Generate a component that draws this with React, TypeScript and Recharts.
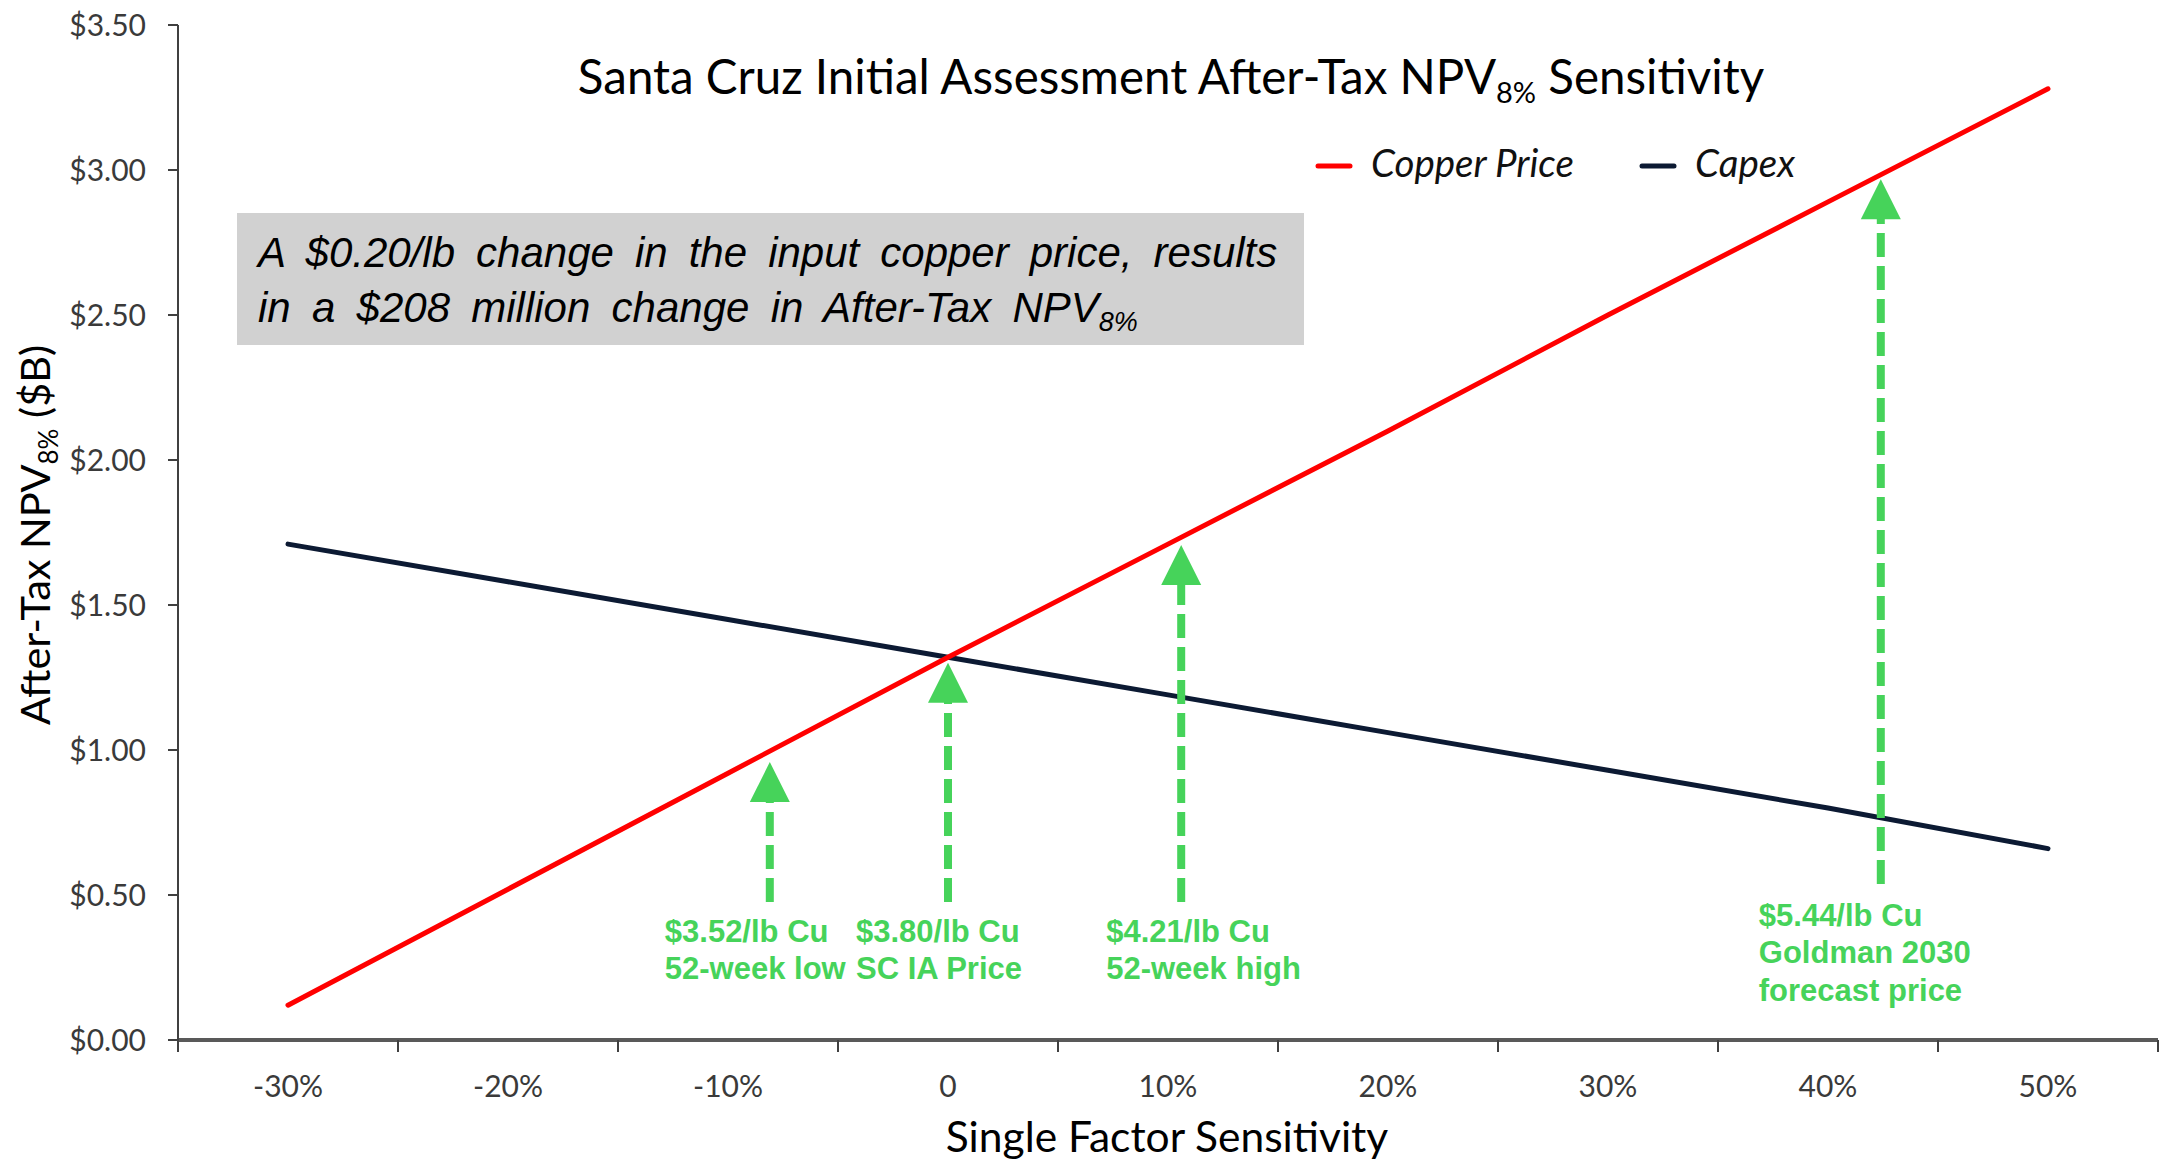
import React from 'react';
import { LineChart, Line, XAxis, YAxis, ReferenceLine, ReferenceDot, Customized } from 'recharts';

// ---------- data ----------
const categories = [-30, -20, -10, 0, 10, 20, 30, 40, 50];
const categoryLabels = ['-30%', '-20%', '-10%', '0', '10%', '20%', '30%', '40%', '50%'];
const copperPrice = [0.12, 0.52, 0.92, 1.32, 1.71, 2.1, 2.5, 2.89, 3.28];
const capex = [1.71, 1.58, 1.45, 1.32, 1.19, 1.06, 0.93, 0.8, 0.66];
const yTicks = [0, 0.5, 1, 1.5, 2, 2.5, 3, 3.5];
const xBoundaries = [-35, -25, -15, -5, 5, 15, 25, 35, 45, 55];

// annotation arrows (x in % sensitivity, y in $B)
const arrowX = [-8.1, 0, 10.6, 42.4];
const arrowBottom = [0.476, 0.476, 0.476, 0.538];
const arrowHeadBase = [0.824, 1.166, 1.572, 2.834];
const arrowLabels = [
  ['$3.52/lb Cu', '52-week low'],
  ['$3.80/lb Cu', 'SC IA Price'],
  ['$4.21/lb Cu', '52-week high'],
  ['$5.44/lb Cu', 'Goldman 2030', 'forecast price'],
];

const series = [
  { key: 'capex', name: 'Capex', color: '#0c1a33' },
  { key: 'copper', name: 'Copper Price', color: '#FF0000' },
];
const legendOrder = ['copper', 'capex'];

// ---------- layout / style ----------
const W = 2165;
const H = 1163;
const MARGIN = { top: 25, right: 7, bottom: 0, left: 78 };
const YAXIS_W = 100;
const XAXIS_H = 123;
const PLOT_W = W - MARGIN.left - MARGIN.right - YAXIS_W;
const HALF_BAND = PLOT_W / categories.length / 2;
const GREEN = '#46D35A';
const SANS = 'Lato, "Noto Sans", sans-serif';
const ARIAL = '"Liberation Sans", Arial, sans-serif';
const labelDx = [-105, -92, -75, -122];
const labelDy = [40, 40, 40, 42];
const legendX = [1318, 1642];

const data = categories.map((c, i) => ({ x: c, copper: copperPrice[i], capex: capex[i] }));

const XTick = (props: any) => {
  const { x, y, payload } = props;
  const i = xBoundaries.indexOf(payload.value);
  if (i < 0 || i >= categoryLabels.length) return <g />;
  return (
    <text x={x + HALF_BAND} y={y + 43} textAnchor="middle" fontFamily={SANS} fontSize={30} fill="#3a3a3a">
      {categoryLabels[i]}
    </text>
  );
};

const ArrowHead = (props: any) => {
  const { cx, cy } = props;
  if (cx == null || cy == null) return <g />;
  return <path d={`M${cx - 20},${cy + 1} L${cx + 20},${cy + 1} L${cx},${cy - 39} Z`} fill={GREEN} />;
};

const makeLabel = (i: number) => (props: any) => {
  const { cx, cy } = props;
  if (cx == null || cy == null) return <g />;
  return (
    <text fontFamily={ARIAL} fontWeight="bold" fontSize={31} fill={GREEN}>
      {arrowLabels[i].map((t, k) => (
        <tspan key={k} x={cx + labelDx[i]} y={cy + labelDy[i] + k * 37.5}>
          {t}
        </tspan>
      ))}
    </text>
  );
};

const Overlay = () => (
  <g>
    {/* title */}
    <text x={1171} y={94} textAnchor="middle" fontFamily={SANS} fontSize={47.5} fill="#000">
      Santa Cruz Initial Assessment After-Tax NPV
      <tspan dy={9} fontSize={29}>8%</tspan>
      <tspan dy={-9}> Sensitivity</tspan>
    </text>
    {/* legend */}
    {legendOrder.map((k, i) => {
      const s = series.find((q) => q.key === k)!;
      return (
        <g key={k}>
          <line x1={legendX[i]} x2={legendX[i] + 32} y1={166} y2={166} stroke={s.color} strokeWidth={5} strokeLinecap="round" />
          <text x={legendX[i] + 53} y={177} fontFamily={SANS} fontStyle="italic" fontSize={38.5} fill="#111">
            {s.name}
          </text>
        </g>
      );
    })}
    {/* text box */}
    <rect x={237} y={213} width={1067} height={132} fill="#d1d1d1" />
    <text x={258} y={267} fontFamily={ARIAL} fontStyle="italic" fontSize={42} fill="#000" wordSpacing={9.4}>
      A $0.20/lb change in the input copper price, results
    </text>
    <text x={258} y={322} fontFamily={ARIAL} fontStyle="italic" fontSize={42} fill="#000" wordSpacing={9.6}>
      in a $208 million change in After-Tax NPV
      <tspan dy={9} fontSize={27}>8%</tspan>
    </text>
    {/* y axis title */}
    <text transform="translate(50,535) rotate(-90)" textAnchor="middle" fontFamily={SANS} fontSize={41.5} fill="#000">
      After-Tax NPV
      <tspan dy={8} fontSize={26}>8%</tspan>
      <tspan dy={-8}> ($B)</tspan>
    </text>
    {/* x axis title */}
    <text x={1167} y={1152} textAnchor="middle" fontFamily={SANS} fontSize={42.5} fill="#000">
      Single Factor Sensitivity
    </text>
  </g>
);

export default function App() {
  return (
    <div style={{ position: 'absolute', left: 0, top: 0, width: W, height: H, background: '#fff' }}>
      <LineChart width={W} height={H} data={data} margin={MARGIN}>
        <XAxis
          dataKey="x"
          type="number"
          domain={[-35, 55]}
          ticks={xBoundaries}
          interval={0}
          height={XAXIS_H}
          axisLine={{ stroke: '#595959', strokeWidth: 4 }}
          tickLine={{ stroke: '#404040', strokeWidth: 2 }}
          tickSize={12}
          tick={<XTick />}
          allowDataOverflow
        />
        <YAxis
          type="number"
          domain={[0, 3.5]}
          ticks={yTicks}
          interval={0}
          width={YAXIS_W}
          axisLine={{ stroke: '#404040', strokeWidth: 2 }}
          tickLine={{ stroke: '#404040', strokeWidth: 2 }}
          tickSize={10}
          tickMargin={22}
          tick={{ fontFamily: SANS, fontSize: 30, fill: '#3a3a3a' }}
          tickFormatter={(v: number) => `$${v.toFixed(2)}`}
          allowDataOverflow
        />
        {series.map((s) => (
          <Line
            key={s.key}
            type="linear"
            dataKey={s.key}
            name={s.name}
            stroke={s.color}
            strokeWidth={5}
            strokeLinecap="round"
            dot={false}
            activeDot={false}
            isAnimationActive={false}
          />
        ))}
        {arrowX.map((x, i) => (
          <ReferenceLine
            key={`l${i}`}
            segment={[
              { x, y: arrowBottom[i] },
              { x, y: arrowHeadBase[i] },
            ]}
            stroke={GREEN}
            strokeWidth={8}
            strokeDasharray="24 9"
          />
        ))}
        {arrowX.map((x, i) => (
          <ReferenceDot key={`h${i}`} x={x} y={arrowHeadBase[i]} r={0} shape={ArrowHead} />
        ))}
        {arrowX.map((x, i) => (
          <ReferenceDot key={`t${i}`} x={x} y={arrowBottom[i]} r={0} shape={makeLabel(i)} />
        ))}
        <Customized component={Overlay} />
      </LineChart>
    </div>
  );
}
